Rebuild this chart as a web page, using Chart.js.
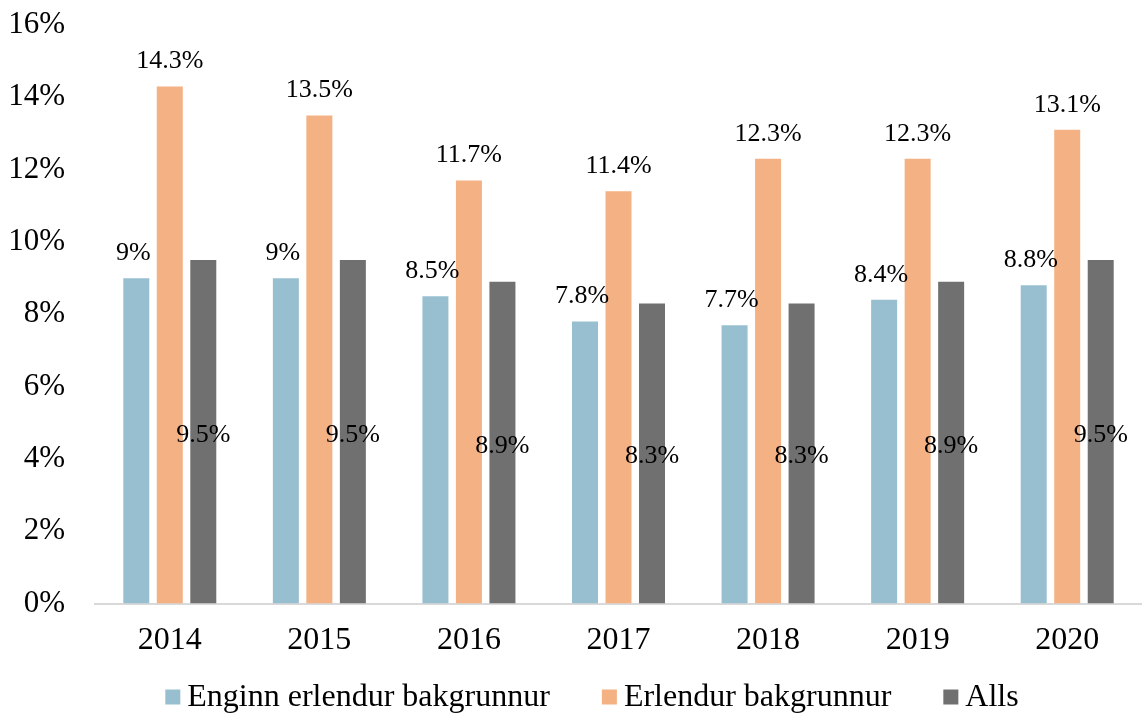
<!DOCTYPE html>
<html>
<head>
<meta charset="utf-8">
<script src="https://cdn.jsdelivr.net/npm/chart.js@4"></script>
<style>
    html, body { margin: 0; padding: 0; background: #fff; }
    #wrap { width: 1142px; height: 715px; }
</style>
</head>
<body>
<div id="wrap"><canvas id="chart"></canvas></div>
<script>
const years = ["2014", "2015", "2016", "2017", "2018", "2019", "2020"];
const enginnErlendur = [9.0, 9.0, 8.5, 7.8, 7.7, 8.4, 8.8];
const erlendur = [14.3, 13.5, 11.7, 11.4, 12.3, 12.3, 13.1];
const alls = [9.5, 9.5, 8.9, 8.3, 8.3, 8.9, 9.5];
const seriesNames = ["Enginn erlendur bakgrunnur", "Erlendur bakgrunnur", "Alls"];
const colors = ["#97BFD0", "#F4B183", "#707070"];

const fontFamily = "'Liberation Serif', 'Times New Roman', serif";

// merki fyrir ofan / inni í súlum
const barLabels = {
    id: "barLabels",
    afterDatasetsDraw(chart) {
        const ctx = chart.ctx;
        ctx.save();
        ctx.font = "26px " + fontFamily;
        ctx.fillStyle = "#000";
        ctx.textAlign = "center";
        ctx.textBaseline = "middle";
        chart.data.datasets.forEach((ds, i) => {
            const meta = chart.getDatasetMeta(i);
            meta.data.forEach((bar, j) => {
                const text = ds.data[j] + "%";
                if (i === 2) {
                    ctx.fillText(text, bar.x, (bar.y + bar.base) / 2 + 3);
                } else {
                    ctx.fillText(text, bar.x - (i === 0 ? 3 : 0), bar.y - 25);
                }
            });
        });
        ctx.restore();
    },
};

// eigin skýringar neðst
const bottomLegend = {
    id: "bottomLegend",
    afterDraw(chart) {
        const ctx = chart.ctx;
        ctx.save();
        ctx.font = "32px " + fontFamily;
        ctx.textBaseline = "middle";
        const box = 15, gapText = 7, gapItem = 52;
        const widths = seriesNames.map((n) => box + gapText + ctx.measureText(n).width);
        const total = widths.reduce((a, b) => a + b, 0) + gapItem * (widths.length - 1);
        let x = 592 - total / 2;
        const y = 697;
        seriesNames.forEach((name, i) => {
            ctx.fillStyle = colors[i];
            ctx.fillRect(x, y - box / 2, box, box);
            ctx.fillStyle = "#000";
            ctx.fillText(name, x + box + gapText, y + 1);
            x += widths[i] + gapItem;
        });
        ctx.restore();
    },
};

new Chart(document.getElementById("chart"), {
    type: "bar",
    data: {
        labels: years,
        datasets: [
            { label: seriesNames[0], data: enginnErlendur, backgroundColor: colors[0] },
            { label: seriesNames[1], data: erlendur, backgroundColor: colors[1] },
            { label: seriesNames[2], data: alls, backgroundColor: colors[2] },
        ],
    },
    options: {
        responsive: true,
        maintainAspectRatio: false,
        animation: false,
        categoryPercentage: 0.672,
        barPercentage: 0.776,
        layout: { padding: { top: 25, right: 0, bottom: 45, left: 0 } },
        plugins: {
            legend: { display: false },
            tooltip: { enabled: false },
        },
        scales: {
            x: {
                grid: { display: false },
                border: { display: true, color: "#D9D9D9", width: 2 },
                ticks: { color: "#000", padding: 10, font: { family: fontFamily, size: 32 } },
            },
            y: {
                min: 0,
                max: 16,
                grid: { display: false },
                border: { display: false },
                ticks: {
                    stepSize: 2,
                    color: "#000",
                    padding: 22,
                    font: { family: fontFamily, size: 31 },
                    callback: (v) => v + "%",
                },
                afterFit(scale) {
                    scale.width = 95;
                    scale.paddingTop = 0;
                    scale.paddingBottom = 0;
                },
            },
        },
    },
    plugins: [barLabels, bottomLegend],
});
</script>
</body>
</html>
